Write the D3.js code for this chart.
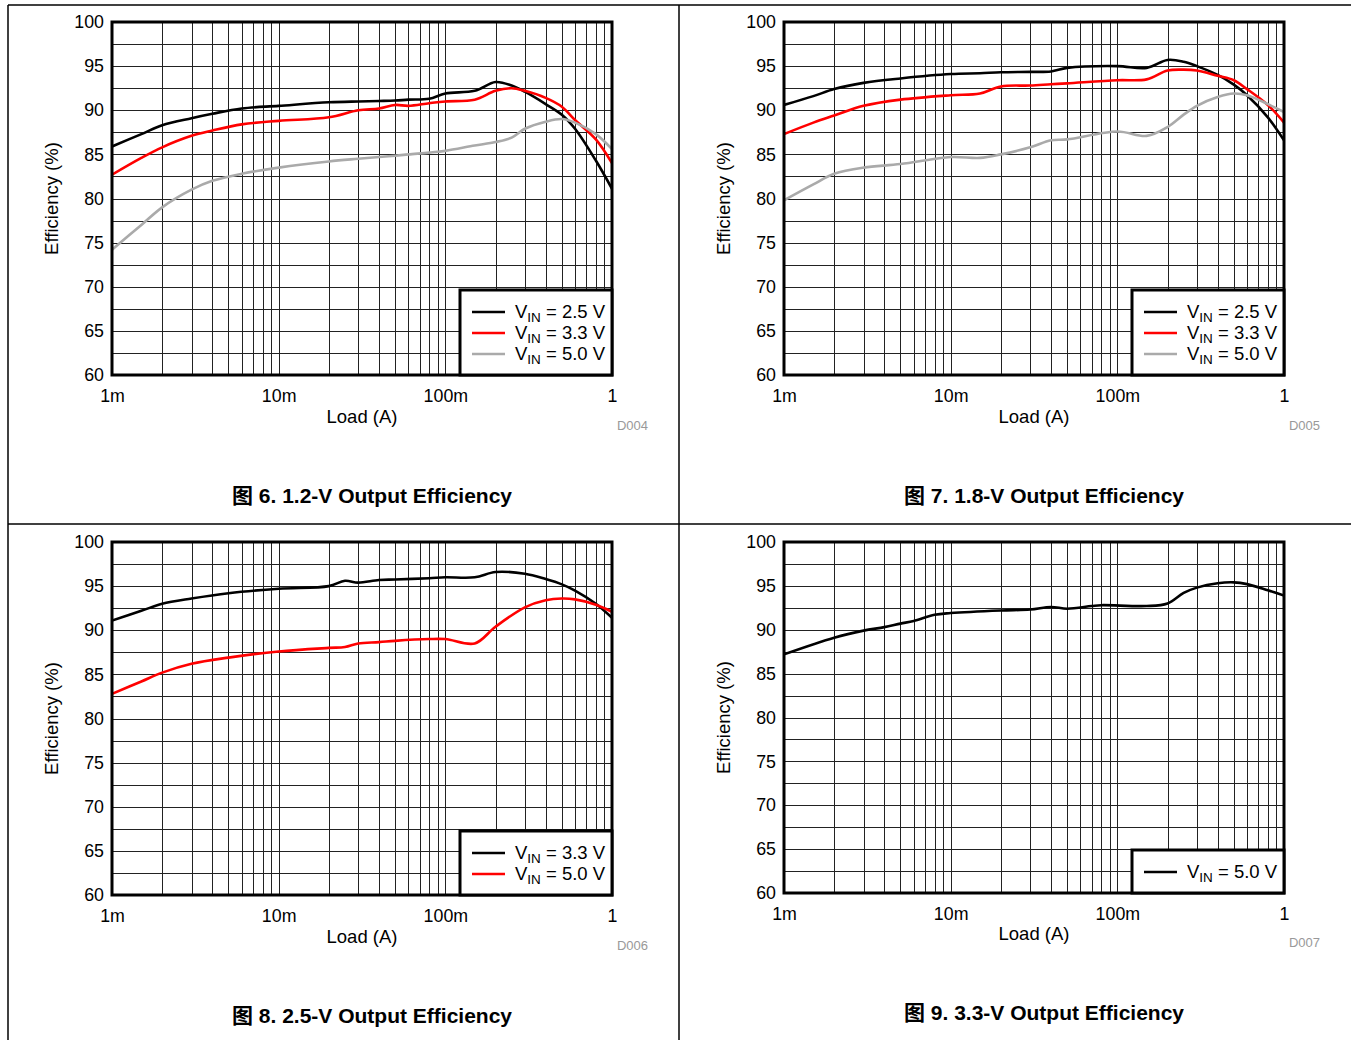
<!DOCTYPE html>
<html>
<head>
<meta charset="utf-8">
<script src="https://cdn.jsdelivr.net/npm/d3@7"></script>
<style>
body { margin: 0; background: #fff; }
text { font-family: "Liberation Sans", Arial, "Noto Sans CJK SC", sans-serif; }
</style>
</head>
<body>
<script>
// Load in mA, efficiency in %
var fig6Load = [1, 1.5, 2, 3, 4, 6, 10, 20, 30, 40, 50, 60, 80, 100, 150,
    200, 250, 300, 400, 500, 600, 800, 1000];
var fig6Vin25 = [85.9, 87.3, 88.3, 89.1, 89.6, 90.2, 90.5, 90.9, 91.0, 91.05,
    91.1, 91.2, 91.3, 91.9, 92.2, 93.2, 92.8, 92.1, 90.7, 89.5, 87.9, 84.3, 81.1];
var fig6Vin33 = [82.7, 84.6, 85.8, 87.1, 87.7, 88.4, 88.8, 89.2, 90.0, 90.2,
    90.6, 90.5, 90.8, 91.0, 91.2, 92.2, 92.5, 92.2, 91.4, 90.4, 88.9, 86.7, 84.0];
var fig6Vin50 = [74.2, 77.0, 79.0, 81.0, 82.0, 82.8, 83.5, 84.2, 84.5, 84.7,
    84.85, 85.0, 85.2, 85.4, 86.0, 86.4, 86.9, 87.9, 88.7, 89.0, 88.6, 87.3, 85.6];

var fig7Load = [1, 1.5, 2, 3, 5, 10, 15, 20, 30, 40, 50, 100, 150, 200, 250,
    300, 400, 500, 600, 800, 1000];
var fig7Vin25 = [90.6, 91.6, 92.4, 93.1, 93.6, 94.1, 94.2, 94.3, 94.35, 94.4,
    94.8, 95.0, 94.8, 95.7, 95.5, 95.0, 94.0, 92.9, 91.7, 89.2, 86.6];
var fig7Vin33 = [87.3, 88.6, 89.4, 90.5, 91.2, 91.7, 91.9, 92.7, 92.8, 92.95,
    93.05, 93.4, 93.5, 94.5, 94.6, 94.5, 93.9, 93.4, 92.4, 90.6, 88.6];
var fig7Vin50 = [79.8, 81.6, 82.8, 83.5, 83.9, 84.7, 84.6, 85.0, 85.8, 86.6,
    86.7, 87.6, 87.1, 88.1, 89.5, 90.5, 91.5, 91.9, 91.7, 90.7, 89.8];

var fig8Load = [1, 1.5, 2, 3, 5, 10, 20, 25, 30, 40, 50, 80, 100, 150, 200,
    300, 400, 500, 600, 800, 1000];
var fig8Vin33 = [91.1, 92.2, 93.0, 93.6, 94.2, 94.7, 95.0, 95.6, 95.4, 95.7,
    95.75, 95.9, 96.0, 96.0, 96.6, 96.4, 95.8, 95.2, 94.5, 93.0, 91.4];
var fig8Vin50 = [82.8, 84.2, 85.2, 86.2, 86.9, 87.6, 88.0, 88.1, 88.5, 88.65,
    88.8, 89.0, 89.0, 88.5, 90.4, 92.6, 93.4, 93.6, 93.5, 92.9, 92.1];

var fig9Load = [1, 2, 3, 4, 5, 6, 8, 10, 20, 30, 40, 50, 70, 80, 150, 200,
    250, 300, 400, 500, 600, 800, 1000];
var fig9Vin50 = [87.2, 89.1, 89.9, 90.3, 90.7, 91.0, 91.7, 91.9, 92.2, 92.3,
    92.6, 92.4, 92.7, 92.8, 92.7, 93.0, 94.2, 94.8, 95.3, 95.4, 95.2, 94.5, 93.9];

var xTickValues = [0.001, 0.01, 0.1, 1];
var xTickLabels = ["1m", "10m", "100m", "1"];
var yTickValues = [60, 65, 70, 75, 80, 85, 90, 95, 100];

var fs = 17.8;
var width = 1351, height = 1040;
var svg = d3.select("body").append("svg")
    .attr("width", width)
    .attr("height", height);

// page frame
var frame = [[8, 5, 1351, 5], [8, 524, 1351, 524], [8, 5, 8, 1040],
    [679, 5, 679, 1040]];
svg.selectAll("line.frame").data(frame).enter().append("line")
    .attr("x1", function(d) { return d[0]; })
    .attr("y1", function(d) { return d[1]; })
    .attr("x2", function(d) { return d[2]; })
    .attr("y2", function(d) { return d[3]; })
    .attr("stroke", "#000")
    .attr("stroke-width", 1.5);

var gridX = [];
[0.001, 0.01, 0.1].forEach(function(dec) {
    for (var k = 1; k <= 9; k++) { gridX.push(dec * k); }
});
gridX.push(1);
var gridY = d3.range(60, 100.1, 2.5);

function drawPanel(p) {
    var left = 112, right = 612, top = 22, bottom = 22 + p.h;
    var g = svg.append("g")
        .attr("transform", "translate(" + p.ox + "," + p.oy + ")");
    var x = d3.scaleLog().domain([0.001, 1]).range([left, right]);
    var y = d3.scaleLinear().domain([60, 100]).range([bottom, top]);

    // grid
    g.append("g")
        .attr("transform", "translate(0," + bottom + ")")
        .call(d3.axisBottom(x).tickValues(gridX).tickSize(-(bottom - top))
            .tickFormat(""))
        .call(function(s) { s.select(".domain").remove(); })
        .selectAll("line").attr("stroke", "#222").attr("stroke-width", 1)
        .attr("shape-rendering", "crispEdges");
    g.append("g")
        .attr("transform", "translate(" + left + ",0)")
        .call(d3.axisLeft(y).tickValues(gridY).tickSize(-(right - left))
            .tickFormat(""))
        .call(function(s) { s.select(".domain").remove(); })
        .selectAll("line").attr("stroke", "#222").attr("stroke-width", 1)
        .attr("shape-rendering", "crispEdges");

    // tick labels
    var yAx = g.append("g")
        .attr("transform", "translate(" + left + ",0)")
        .call(d3.axisLeft(y).tickValues(yTickValues).tickSize(0)
            .tickPadding(8));
    yAx.select(".domain").remove();
    yAx.selectAll("text").attr("font-size", fs).attr("fill", "#000")
        .style("font-family", "'Liberation Sans', Arial, sans-serif");

    var xAx = g.append("g")
        .attr("transform", "translate(0," + bottom + ")")
        .call(d3.axisBottom(x).tickValues(xTickValues).tickSize(0)
            .tickPadding(14)
            .tickFormat(function(d, i) { return xTickLabels[i]; }));
    xAx.select(".domain").remove();
    xAx.selectAll("text").attr("font-size", fs).attr("fill", "#000")
        .style("font-family", "'Liberation Sans', Arial, sans-serif");

    // curves
    var clipId = "clip" + p.id;
    g.append("clipPath").attr("id", clipId).append("rect")
        .attr("x", left).attr("y", top)
        .attr("width", right - left).attr("height", bottom - top);
    var line = d3.line()
        .x(function(d) { return x(d.load / 1000); })
        .y(function(d) { return y(d.eff); })
        .curve(d3.curveCatmullRom.alpha(0.5));
    p.series.forEach(function(s) {
        var pts = p.load.map(function(l, i) {
            return {load: l, eff: s.values[i]};
        });
        g.append("path").datum(pts)
            .attr("clip-path", "url(#" + clipId + ")")
            .attr("fill", "none")
            .attr("stroke", s.color)
            .attr("stroke-width", 2.6)
            .attr("stroke-linejoin", "round")
            .attr("d", line);
    });

    // plot frame
    g.append("rect")
        .attr("x", left).attr("y", top)
        .attr("width", right - left).attr("height", bottom - top)
        .attr("fill", "none").attr("stroke", "#000").attr("stroke-width", 3);

    // legend
    var n = p.series.length;
    var lh = 21 * n + 22, lw = 152;
    var lg = g.append("g")
        .attr("transform", "translate(" + (right - lw) + "," + (bottom - lh) + ")");
    lg.append("rect")
        .attr("width", lw).attr("height", lh)
        .attr("fill", "#fff").attr("stroke", "#000").attr("stroke-width", 3);
    p.series.forEach(function(s, i) {
        var cy = 22 + 21 * i;
        lg.append("line")
            .attr("x1", 12).attr("x2", 45).attr("y1", cy).attr("y2", cy)
            .attr("stroke", s.color).attr("stroke-width", 2.6);
        var t = lg.append("text")
            .attr("x", 55).attr("y", cy + 6)
            .attr("font-size", 18.5).attr("fill", "#000");
        t.append("tspan").text("V");
        t.append("tspan").attr("font-size", 13.5).attr("dy", 4).text("IN");
        t.append("tspan").attr("dy", -4).text(" = " + s.name);
    });

    // titles
    g.append("text")
        .attr("transform", "translate(58," + ((top + bottom) / 2) + ") rotate(-90)")
        .attr("text-anchor", "middle")
        .attr("font-size", 18.5)
        .text("Efficiency (%)");
    g.append("text")
        .attr("x", 362).attr("y", 423 + p.dt)
        .attr("text-anchor", "middle")
        .attr("font-size", 18.5)
        .text("Load (A)");
    g.append("text")
        .attr("x", 648).attr("y", 430 + p.dt)
        .attr("text-anchor", "end")
        .attr("font-size", 13)
        .attr("fill", "#999")
        .text(p.code);
    g.append("text")
        .attr("x", 372).attr("y", 503 + p.dt)
        .attr("text-anchor", "middle")
        .attr("font-size", 21)
        .attr("font-weight", "bold")
        .text(p.caption);
}

var panels = [
    {id: 6, ox: 0, oy: 0, h: 353, dt: 0, code: "D004",
        caption: "图 6. 1.2-V Output Efficiency", load: fig6Load,
        series: [{name: "2.5 V", color: "#000", values: fig6Vin25},
            {name: "3.3 V", color: "#ff0000", values: fig6Vin33},
            {name: "5.0 V", color: "#aaaaaa", values: fig6Vin50}]},
    {id: 7, ox: 672, oy: 0, h: 353, dt: 0, code: "D005",
        caption: "图 7. 1.8-V Output Efficiency", load: fig7Load,
        series: [{name: "2.5 V", color: "#000", values: fig7Vin25},
            {name: "3.3 V", color: "#ff0000", values: fig7Vin33},
            {name: "5.0 V", color: "#aaaaaa", values: fig7Vin50}]},
    {id: 8, ox: 0, oy: 520, h: 353, dt: 0, code: "D006",
        caption: "图 8. 2.5-V Output Efficiency", load: fig8Load,
        series: [{name: "3.3 V", color: "#000", values: fig8Vin33},
            {name: "5.0 V", color: "#ff0000", values: fig8Vin50}]},
    {id: 9, ox: 672, oy: 520, h: 351, dt: -3, code: "D007",
        caption: "图 9. 3.3-V Output Efficiency", load: fig9Load,
        series: [{name: "5.0 V", color: "#000", values: fig9Vin50}]}
];
panels.forEach(drawPanel);
</script>
</body>
</html>
